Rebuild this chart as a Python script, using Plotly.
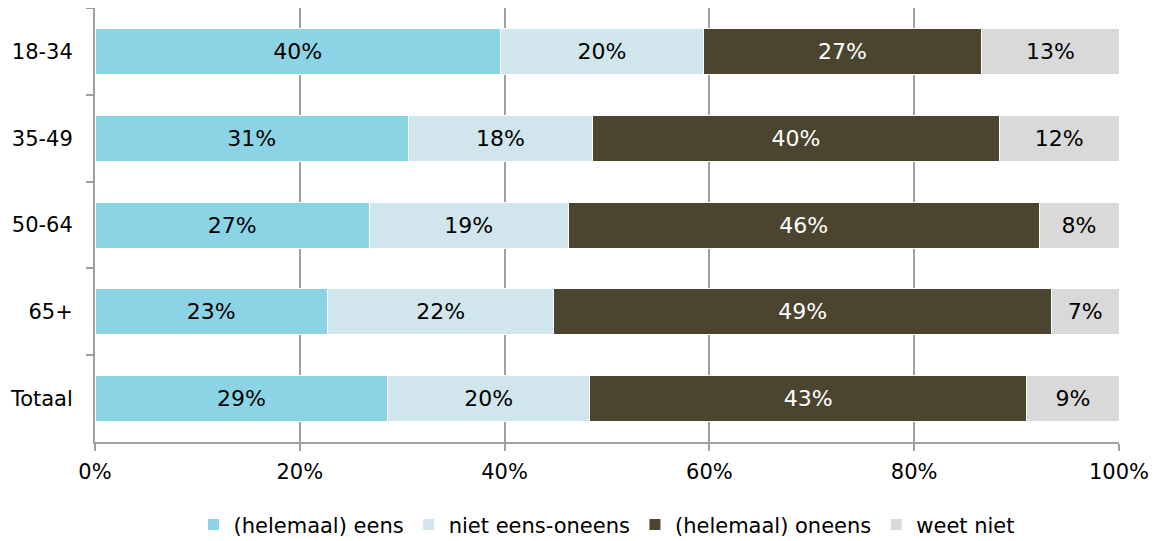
import plotly.graph_objects as go

categories = ["18-34", "35-49", "50-64", "65+", "Totaal"]
series_names = ["(helemaal) eens", "niet eens-oneens", "(helemaal) oneens", "weet niet"]
eens = [39.6, 30.6, 26.8, 22.7, 28.6]
neutraal = [19.8, 18.0, 19.4, 22.1, 19.7]
oneens = [27.2, 39.7, 46.0, 48.6, 42.7]
weet_niet = [13.4, 11.7, 7.8, 6.6, 9.0]
x_ticks = [0, 20, 40, 60, 80, 100]

colors = ["#8BD4E5", "#D0E6EC", "#4B452F", "#D9D9D9"]
text_colors = ["#000000", "#000000", "#FFFFFF", "#000000"]
FONT = "Verdana, 'DejaVu Sans', sans-serif"

fig = go.Figure()
for name, vals, col, tcol in zip(series_names, [eens, neutraal, oneens, weet_niet], colors, text_colors):
    fig.add_trace(go.Bar(
        y=categories, x=vals, name=name, orientation="h",
        marker=dict(color=col, line=dict(color="#FFFFFF", width=1)),
        texttemplate="%{x:.0f}%", textposition="inside", insidetextanchor="middle",
        textfont=dict(color=tcol, size=22, family=FONT),
        hoverinfo="skip",
    ))

# page body has an 8px margin, so the figure is sized to fit the window
fig.update_layout(
    barmode="stack",
    bargap=0.47,
    width=1149, height=533,
    margin=dict(l=87, r=38, t=0, b=99, autoexpand=False),
    paper_bgcolor="white", plot_bgcolor="white",
    font=dict(family=FONT, size=21, color="#000000"),
    uniformtext=dict(mode="show", minsize=22),
    legend=dict(orientation="h", x=0.5, xanchor="center", y=-0.191, yanchor="middle",
                font=dict(size=21), traceorder="normal", itemwidth=30),
    showlegend=True,
)
fig.update_xaxes(
    range=[0, 100], tickvals=x_ticks, ticktext=[f"{v}%" for v in x_ticks],
    showgrid=True, gridcolor="#A0A0A0", gridwidth=2,
    showline=True, linecolor="#A0A0A0", linewidth=2,
    ticks="outside", ticklen=7, tickcolor="#A0A0A0", tickwidth=2,
    ticklabelstandoff=3,
    zeroline=False, fixedrange=True, automargin=False,
)
fig.update_yaxes(
    type="category", categoryorder="array", categoryarray=categories,
    autorange="reversed",
    showline=True, linecolor="#A0A0A0", linewidth=2,
    ticks="outside", tickson="boundaries", ticklen=7, tickcolor="#A0A0A0", tickwidth=2,
    ticklabelstandoff=16,
    showgrid=False, fixedrange=True, automargin=False,
)

fig.write_html("out.html")
